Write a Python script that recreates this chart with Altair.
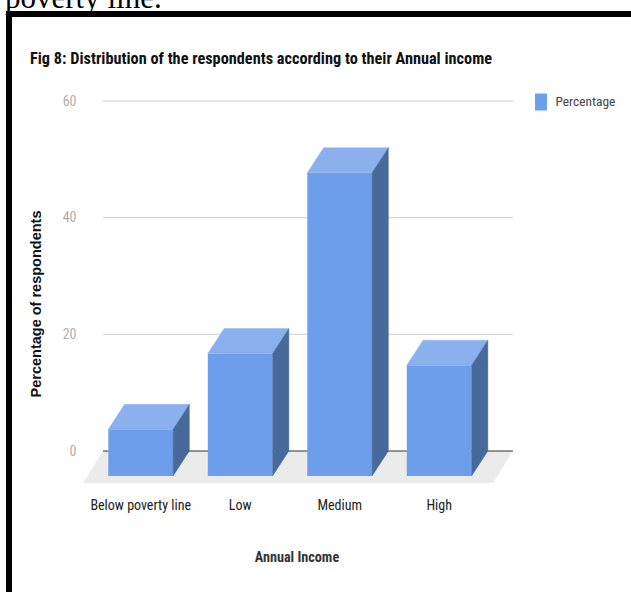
import altair as alt
import pandas as pd

# ---------------- data ----------------
categories = ["Below poverty line", "Low", "Medium", "High"]
percentages = [8, 21, 52, 19]
y_ticks = [0, 20, 40, 60]
grid_values = [20, 40, 60]

series_name = "Percentage"
title_text = "Fig 8: Distribution of the respondents according to their Annual income"
x_title = "Annual Income"
y_title = "Percentage of respondents"
top_text = "poverty line."

# ---------------- layout / style ----------------
PX_PER_UNIT = 350 / 60.0
PLOT_W = 430
PLOT_H = 382
Y_MAX = 60
Y_MIN = Y_MAX - PLOT_H / PX_PER_UNIT
BAR_START = 25.3
BAR_STEP = 99.5
BAR_W = 64.8
DEPTH_X = 16.3
DEPTH_Y = 25 / PX_PER_UNIT
FLOOR_X = 20

FRONT = "#6d9eeb"
TOP = "#8ab0ee"
SIDE = "#476a9b"
FLOOR = "#ebebeb"
GRID = "#d0d0d0"

COND = "'Roboto Condensed', 'Liberation Sans Narrow', 'DejaVu Sans Condensed', 'Arial Narrow', sans-serif"

# ---------------- derived tables ----------------
front_rows, top_rows, side_rows, label_rows = [], [], [], []
for i, (c, v) in enumerate(zip(categories, percentages)):
    fl = BAR_START + i * BAR_STEP
    fr = fl + BAR_W
    front_rows.append(dict(cat=c, series=series_name, value=v, x0=fl, x1=fr,
                           y0=-DEPTH_Y, y1=v - DEPTH_Y))
    top_rows += [
        dict(bar=c, x=fl, lo=v - DEPTH_Y, hi=v - DEPTH_Y),
        dict(bar=c, x=fl + DEPTH_X, lo=v - DEPTH_Y, hi=v),
        dict(bar=c, x=fr, lo=v - DEPTH_Y, hi=v),
        dict(bar=c, x=fr + DEPTH_X, lo=v, hi=v),
    ]
    side_rows += [
        dict(bar=c, x=fr, lo=-DEPTH_Y, hi=v - DEPTH_Y),
        dict(bar=c, x=fr + DEPTH_X, lo=0, hi=v),
    ]
    label_rows.append(dict(cat=c, cx=fl + BAR_W / 2))

front_df = pd.DataFrame(front_rows)
top_df = pd.DataFrame(top_rows)
side_df = pd.DataFrame(side_rows)
label_df = pd.DataFrame(label_rows)

floor_df = pd.DataFrame([
    dict(x=0, lo=Y_MIN, hi=Y_MIN),
    dict(x=FLOOR_X, lo=Y_MIN, hi=0),
    dict(x=PLOT_W - FLOOR_X, lo=Y_MIN, hi=0),
    dict(x=PLOT_W, lo=0, hi=0),
])
grid_df = pd.DataFrame(dict(y=grid_values, x0=FLOOR_X, x1=PLOT_W))
zero_df = pd.DataFrame(dict(y=[0], x0=[FLOOR_X], x1=[PLOT_W]))

xs = alt.Scale(domain=[0, PLOT_W], nice=False, zero=False)
ys = alt.Scale(domain=[Y_MIN, Y_MAX], nice=False, zero=False)
y_axis = alt.Axis(values=y_ticks, grid=False, domain=False, ticks=False,
                  labelPadding=7, labelColor="#b0b0b0", labelFont=COND,
                  labelFontSize=14, title=None)


def X(f):
    return alt.X(f, scale=xs, axis=None)


def Y(f):
    return alt.Y(f, scale=ys, axis=y_axis)


floor = alt.Chart(floor_df).mark_area(color=FLOOR).encode(
    x=X("x:Q"), y=Y("lo:Q"), y2="hi:Q")

grid = alt.Chart(grid_df).mark_rule(color=GRID, strokeWidth=1).encode(
    x=X("x0:Q"), x2="x1:Q", y=Y("y:Q"))

zero = alt.Chart(zero_df).mark_rule(color="#333333", strokeWidth=1).encode(
    x=X("x0:Q"), x2="x1:Q", y=Y("y:Q"))

front = alt.Chart(front_df).mark_rect(strokeWidth=0).encode(
    x=X("x0:Q"), x2="x1:Q", y=Y("y0:Q"), y2="y1:Q",
    color=alt.Color("series:N",
                    scale=alt.Scale(domain=[series_name], range=[FRONT]),
                    legend=alt.Legend(orient="none", legendX=449.5, legendY=-7.5,
                                      title=None, padding=0,
                                      symbolType="M-0.706,-1H0.706V1H-0.706Z",
                                      symbolSize=289, symbolStrokeWidth=0,
                                      labelFont=COND, labelFontSize=13.4,
                                      labelColor="#444444", labelOffset=6)))

top = alt.Chart(top_df).mark_area(color=TOP, stroke=TOP, strokeWidth=0.4).encode(
    x=X("x:Q"), y=Y("lo:Q"), y2="hi:Q", detail="bar:N")

side = alt.Chart(side_df).mark_area(color=SIDE, stroke=SIDE, strokeWidth=0.4).encode(
    x=X("x:Q"), y=Y("lo:Q"), y2="hi:Q", detail="bar:N")

cat_labels = alt.Chart(label_df).mark_text(
    font=COND, fontSize=14, color="#222222", baseline="middle", align="center"
).encode(x=X("cx:Q"), y=alt.value(405), text="cat:N")

x_title_mark = alt.Chart(pd.DataFrame(dict(t=[x_title]))).mark_text(
    font=COND, fontSize=14.2, fontWeight="bold", color="#333333",
    baseline="middle", align="center"
).encode(x=alt.value(214), y=alt.value(457), text="t:N")

y_title_mark = alt.Chart(pd.DataFrame(dict(t=[y_title]))).mark_text(
    font="'Liberation Sans', Arial, sans-serif", fontSize=14.5, fontWeight="bold",
    color="#111111", baseline="middle", align="center", angle=270
).encode(x=alt.value(-46), y=alt.value(203), text="t:N")

title_mark = alt.Chart(pd.DataFrame(dict(t=[title_text]))).mark_text(
    font=COND, fontSize=16.3, fontWeight="bold", color="#111111",
    baseline="middle", align="left"
).encode(x=alt.value(-53), y=alt.value(-42), text="t:N")

top_text_mark = alt.Chart(pd.DataFrame(dict(t=[top_text]))).mark_text(
    font="'Liberation Serif', 'Times New Roman', serif", fontSize=31,
    color="#000000", baseline="alphabetic", align="left"
).encode(x=alt.value(-78), y=alt.value(-93), text="t:N")

frame_top = alt.Chart(pd.DataFrame(dict(k=["top"]))).mark_rect(color="#000000").encode(
    x=alt.value(-77), x2=alt.value(548), y=alt.value(-90), y2=alt.value(-84))
frame_left = alt.Chart(pd.DataFrame(dict(k=["left"]))).mark_rect(color="#000000").encode(
    x=alt.value(-77), x2=alt.value(-71), y=alt.value(-90), y2=alt.value(491))

chart = alt.layer(
    floor, grid, zero, front, top, side,
    cat_labels, x_title_mark, y_title_mark, title_mark,
    top_text_mark, frame_top, frame_left,
).properties(
    width=PLOT_W, height=PLOT_H,
    autosize=alt.AutoSizeParams(type="none"),
    padding={"left": 83, "top": 101, "right": 118, "bottom": 109},
    background="white",
).configure_view(stroke=None)

chart.save("out.html", embed_options={"renderer": "svg", "actions": False})
